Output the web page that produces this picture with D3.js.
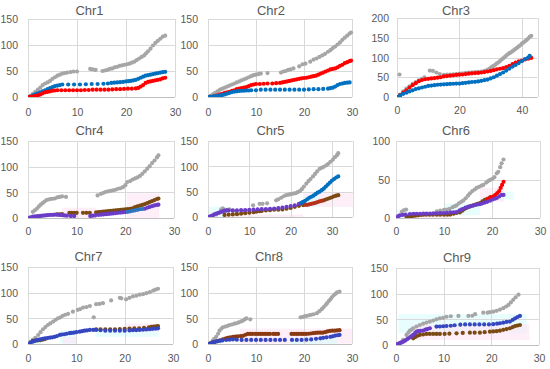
<!DOCTYPE html>
<html><head><meta charset="utf-8">
<script src="https://cdn.jsdelivr.net/npm/d3@7"></script>
<style>html,body{margin:0;padding:0;background:#fff;}svg{display:block;}</style>
</head><body>
<script>
// ---------------- DATA ----------------
const titles = ["Chr1","Chr2","Chr3","Chr4","Chr5","Chr6","Chr7","Chr8","Chr9"];
const xTicks = [[0,10,20,30],[0,10,20,30],[0,20,40],[0,10,20,30],[0,10,20,30],[0,10,20,30],[0,10,20,30],[0,10,20,30],[0,10,20,30]];
const yTicks = [[0,50,100,150],[0,50,100,150],[0,50,100,150,200],[0,50,100,150],[0,50,100,150],[0,50,100],[0,50,100,150],[0,50,100,150],[0,50,100,150]];
const xMax = [30,30,45,30,35,30,30,30,30];
const yMax = [150,150,200,150,150,100,150,150,150];

// Chr1
const chr1Gray = [[0,0],[0.5,2],[1,6],[1.5,10],[2,14],[2.5,18],[3,23],[3.5,26],[4,28],[4.5,31],[5,35],[5.5,38],[6,41],[6.5,43],[7,45],[7.5,46],[8,47],[8.7,48],[9.3,49],[10,49],[12.7,54],[13.2,53],[13.8,52],[15.2,50],[15.7,51],[16.2,52],[16.7,54],[17.2,55],[17.7,57],[18.2,58],[18.7,60],[19.2,61],[19.7,62],[20.2,63],[20.7,64],[21.2,66],[21.7,68],[22.2,71],[22.7,74],[23.2,77],[23.7,80],[24.1,84],[24.5,88],[25,93],[25.5,99],[26,104],[26.5,108],[27,112],[27.5,116],[28,118]];
const chr1Blue = [[0,0],[0.5,1],[1,3],[1.5,5],[2,7],[2.5,9],[3,11],[3.5,13],[4,15],[4.5,17],[5,19],[5.5,21],[6,22],[6.5,23],[7,24],[8.2,24],[9.4,24],[10.6,24],[11.8,24.5],[13,25],[14.2,25],[15.4,25.5],[16.3,26],[17,27],[17.6,27.5],[18.2,28],[18.8,28.5],[19.4,29],[20,30],[20.5,30.5],[21,31],[21.5,32],[22,33],[22.5,35],[23,37],[23.5,39],[24,41],[24.5,42],[25,43],[25.5,44],[26,45],[26.5,46],[27,47],[27.5,48],[28,48.5]];
const chr1Red = [[0,0],[0.5,0.5],[1,1],[1.5,2],[2,3],[2.5,5],[3,7],[3.5,9],[4,10],[4.5,11],[5,12],[5.5,12.5],[6,13],[6.8,13],[7.6,13],[8.4,13],[9.2,13],[10,13],[10.8,13],[11.6,13.5],[12.4,13.5],[13.2,14],[14,14],[14.8,14],[15.6,14],[16.4,14],[17.2,14.5],[18,15],[18.8,15],[19.6,15.5],[20.4,16],[21.2,16],[22,16.5],[22.5,17.5],[23,20],[23.5,23],[24,27],[24.5,29],[25,30],[25.5,31],[26,32],[26.5,33],[27,34],[27.5,36],[28,37]];
// Chr2
const chr2Gray = [[0,0],[0.5,2],[1,5],[1.5,8],[2,11],[2.5,14],[3,16],[3.5,18],[4,20],[4.5,22],[5,24],[5.5,26],[6,28],[6.5,30],[7,32],[7.5,34],[8,36],[8.5,38],[9,40],[9.5,42],[10,43],[10.5,44],[11,45],[12.4,46],[15.2,47],[15.7,49],[16.2,50],[16.7,52],[17.2,53],[17.8,55],[19,59],[19.7,63],[20.3,64],[21.3,68],[22,72],[22.6,74],[23.2,77],[23.8,80],[24.4,83],[25,87],[25.5,90],[26,94],[26.5,97],[27,101],[27.5,105],[28,110],[28.5,114],[29,118],[29.5,122],[29.8,124]];
const chr2Red = [[0,0],[0.5,0.5],[1,1],[1.5,2],[2,3],[2.5,5],[3,6],[3.5,8],[4,9],[4.5,10],[5,12],[5.5,13],[6,15],[6.5,16],[7,17],[7.5,18],[8,19],[8.5,21],[9,23],[9.5,24],[10,25],[10.8,25],[11.6,25.5],[12.4,26],[13.4,26],[14.2,26.5],[15,27],[15.5,28],[16,29],[16.5,30],[17,31],[17.5,32],[18,33],[18.5,34],[19,35],[19.5,36],[20,36.5],[20.5,37],[21,38],[21.5,39],[22,40],[22.5,41],[23,43],[23.5,45],[24,47],[24.5,49],[25,51],[25.5,53],[26,54],[26.5,55],[27,57],[27.5,60],[28,62],[28.5,65],[29,67],[29.5,69],[29.8,70]];
const chr2Blue = [[0,0],[0.5,0.5],[1,1],[1.5,1.5],[2,2],[2.5,3],[3,4],[3.5,5],[4,6.5],[4.5,8],[5,9.5],[5.5,10.5],[6,11],[6.5,11.5],[7,12],[7.5,12],[8,12.5],[8.5,12.5],[9,13],[10,13],[11,14],[12,14],[13,14],[14,14],[15,14],[16,14],[17,14],[18,14],[19,14],[20,14],[21,14.5],[22,15],[23,15],[24,15.5],[25,16],[25.5,17],[26,18],[26.5,20],[27,23],[27.5,25],[28,26],[28.5,27],[29,27.5],[29.5,28]];
// Chr3
const chr3Gray = [[0.8,57],[0,0],[1,6],[2,14],[3,21],[4,27],[5,33],[6,38],[7,42],[8,46],[8.8,50],[10.5,67],[11.5,66],[12.6,62],[13.7,58],[15,56],[16,56.5],[17,57],[18,57.5],[19,58],[20,59],[21,60],[22,61],[23,62],[24,62.5],[25,63],[26,63.5],[27,64],[28,66],[28.8,68],[29.5,71],[30,74],[30.5,77],[31,79],[31.5,82],[32,85],[32.5,88],[33,91],[33.5,95],[34,98],[34.5,101],[35,105],[35.5,108],[36,111],[36.5,113],[37,116],[37.5,119],[38,122],[38.5,125],[39,128],[39.5,131],[40,135],[40.5,138],[41,141],[41.5,144],[42,148],[42.5,152],[43,155]];
const chr3Red = [[0,0],[1,5],[2,11],[3,17],[4,24],[5,30],[6,35],[7,40],[8,43],[9,45],[10,46],[11,47],[12,48],[13,49],[14,50],[15,52],[16,53],[17,54],[18,55],[19,56],[20,56.5],[21,57],[22,58],[23,59],[24,60],[25,60.5],[26,61],[27,62],[28,63],[29,64.5],[30,66],[31,68],[32,70],[33,71.5],[34,73],[35,76],[36,79],[37,83],[38,87],[39,90],[40,92],[41,95],[42,97],[43,99]];
const chr3Blue = [[0,0],[1,4],[2,8],[3,11],[4,14],[5,17],[6,20],[7,22],[8,24],[9,26],[10,28],[11,29],[12,30],[13,31],[14,31.5],[15,32],[16,32.5],[17,33],[18,33.5],[19,34],[20,34],[21,35],[22,36],[23,37],[24,38],[25,38.5],[26,39.5],[27,41],[28,42.5],[29,44],[30,47],[31,50],[32,54],[33,58],[34,62],[35,67],[36,72],[37,77],[38,81],[39,86],[40,91],[41,96],[42,100],[42.5,104]];
// Chr4
const chr4Gray = [[1,12],[1.4,15],[1.8,18],[2.2,22],[2.6,26],[3,29],[3.4,32],[3.8,35],[4.2,36],[4.6,37],[5,37.5],[5.5,38],[6,40],[6.5,41],[7,42],[7.8,41],[14.3,44],[15,47],[15.5,49],[16,51],[16.5,52],[17,53],[17.5,54],[18,55],[18.5,57],[19,58],[19.5,60],[20,64],[20.4,70],[21,72],[21.5,75],[22,77],[22.5,79],[23,82],[23.5,86],[24,91],[24.5,96],[25,101],[25.5,107],[26,112],[26.5,118],[26.8,122]];
const chr4Brown = [[6,7],[6.5,7],[7,7.5],[8.5,10],[9,10],[9.5,10],[10,10],[11.3,10],[12,10],[12.7,10],[14,11],[14.5,11.5],[15,12],[15.5,12.5],[16,13],[16.5,13.5],[17,14],[17.5,14.5],[18,15],[18.5,15.5],[19,16],[19.5,16.5],[20,17],[20.5,17.5],[21,18],[21.5,19],[22,21],[22.5,22.5],[23,24],[23.5,25.5],[24,27],[24.5,29],[25,31],[25.5,33],[26,35],[26.5,37],[26.8,38]];
const chr4Purple = [[0,0],[0.5,1.5],[1,2.5],[1.5,3],[2,3.5],[2.5,4],[3,4.5],[3.5,5],[4,5.5],[4.5,6],[5,6],[5.5,6.5],[6,6.5],[6.5,6],[7,5.5],[7.5,5],[8,4.5],[8.8,4],[9.5,4],[12.8,4],[13.3,4.5],[13.8,5],[14.5,6],[15,6.5],[15.5,7],[16,7.5],[16.5,8],[17,8.5],[17.5,9],[18,9.5],[18.5,10],[19,10.5],[19.5,11],[20,11.5],[24,18],[24.5,20],[25,21.5],[25.5,23],[26,24.5],[26.5,25.5],[26.8,26]];
const chr4Blue = [[20.5,12],[21,13],[21.5,14],[22,15],[22.5,16],[23,17],[23.5,17.5]];
// Chr5
const chr5Gray = [[1.2,2],[2,5],[2.6,8],[3.2,15],[3.6,17],[4,10],[4.6,14],[5.2,15],[6,12],[6.9,10],[8.5,10.5],[10,13],[10.9,23],[12.5,26],[13.2,26],[14.3,27],[16.5,33],[17,35],[17.7,38],[18.3,41],[18.9,43],[19.5,44],[20,45],[20.6,46],[21.2,47],[21.7,49],[22.2,51],[22.7,55],[23.2,60],[23.8,66],[24.3,71],[24.8,75],[25.4,80],[25.9,85],[26.4,90],[27,95],[27.5,97],[28,99],[28.6,102],[29.1,105],[29.6,109],[30.2,113],[30.7,118],[31.2,122],[31.5,126]];
const chr5Brown = [[4,4],[5,4.5],[6,5],[7,5.5],[8,6.5],[9,7.5],[10,8.5],[11,9.5],[11.7,10.4],[12.5,11.5],[13,12],[14,13],[15,13.5],[16,14.4],[17,14.5],[18,15],[19,16.5],[20,18],[21,20],[22,22],[23,23.5],[28,33],[28.5,34.5],[29,36],[29.5,37.5],[30,39],[30.5,41],[31,42],[31.5,43]];
const chr5Red = [[23.5,24],[24,24],[24.5,25],[25,26],[25.5,27],[26,28],[26.5,29.5],[27,31],[27.5,32]];
const chr5Purple = [[0,0],[0.5,1.5],[1,3],[1.5,5],[2,6.5],[2.5,8],[3,9.5],[3.5,11],[4,12.5],[4.5,13],[5,13],[6,13],[7,13],[8,13.5],[9,13.5],[10,14],[11,14.5],[12,15],[13,15.5],[14,15.7],[15,16],[16,16.5],[17,17.5],[18,18.5],[19,20],[20,21.5],[21,23],[22,26],[22.6,28]];
const chr5Blue = [[22.6,28],[23,30],[23.5,32],[24,35],[24.5,38],[25,40],[25.5,42],[26,45],[26.5,48],[27,50],[27.5,53],[28,56],[28.5,60],[29,64],[29.5,68],[30,72],[30.5,75],[31,78],[31.5,80]];
// Chr6
const chr6Gray = [[1.2,8],[1.6,10],[2.1,11],[8.5,8.6],[9.2,9.5],[10,10.5],[10.6,11],[11.2,12],[11.8,14],[12.3,15.5],[12.6,16.5],[13.1,19],[13.6,21],[14,22.5],[14.5,25.5],[15,29],[15.4,32],[15.9,35],[16.4,37],[16.8,39],[17.3,40.5],[17.8,42],[18.2,43],[18.8,46],[19.2,48],[19.6,49.5],[20.1,51],[20.5,53],[21,58],[21.3,60],[21.7,66],[22,71],[22.4,76]];
const chr6Brown = [[2.2,2],[2.8,2],[3.4,2.5],[4,3],[4.6,3.5],[5.2,4],[5.7,4.3],[6.3,4.3],[7,4.3],[7.7,4.3],[8.5,4.3],[9.2,4.3],[10,4.3],[10.7,4.3],[11.3,4.5],[12,5.5],[12.6,6.5],[13.3,7.3],[13.8,9.5],[14.2,11.5],[14.7,13],[15.2,14.5],[15.6,15.5],[16.1,16.4],[16.6,17.5],[17,18.5],[17.5,19.4],[18,21.5],[18.5,23.7],[19,25],[19.6,26.7]];
const chr6Red = [[19,24],[19.4,25.5],[19.8,27],[20.3,28],[20.7,30],[21.1,32.5],[21.5,35],[21.8,39],[22.1,43],[22.4,47]];
const chr6Purple = [[0,0],[0.4,2],[0.8,3.4],[1.4,4],[2,4.5],[2.9,5.2],[3.6,5.4],[4.3,5.5],[5,5.5],[5.7,5.6],[6.4,5.6],[7.1,5.8],[7.8,6],[8.5,6.2],[9.2,6.4],[9.9,6.5],[10.6,6.8],[11.3,7.2],[12,7.5],[12.6,7.8],[13.2,9.5],[13.6,11],[14,12],[14.5,13.5],[15,14.5],[15.4,15],[16,16],[16.5,17],[17,17.5],[17.5,18],[18,19],[18.5,20],[19,21],[19.6,22.4],[20.1,24],[20.6,25],[21,26],[21.5,28],[22,30],[22.4,30]];
// Chr7
const chr7Gray = [[0,0],[0.5,4],[1,8],[1.5,12],[2.1,17.5],[2.6,23],[3.1,28.7],[3.6,33],[4.1,37],[4.6,40],[5.2,43.7],[5.7,47],[6.2,50],[6.7,52],[7.2,55],[7.7,57],[8.3,58.7],[9.3,63],[10.3,66.5],[10.8,68],[11.4,71],[12.1,72],[12.8,74],[13.6,52],[14.1,77.6],[14.8,78],[15.5,79.6],[17.2,84.8],[19,90],[19.3,89],[20.3,87],[21,90],[21.7,92.6],[22.4,94],[23.1,96],[23.8,97],[24.5,99],[25.2,101],[25.9,104],[26.4,106],[26.9,107.6]];
const chr7Brown = [[1,6],[1.5,6.5],[2,7],[2.5,7.5],[3,8.5],[3.5,9.5],[14.1,28.7],[15,28.7],[16,28.7],[17,28.7],[18,28.7],[19,29],[20,29.5],[21,30],[22,30.3],[23,30.6],[24,31.5],[25,32.5],[25.5,33.5],[26,34],[26.5,34.5],[26.9,35]];
const chr7Blue = [[0,0],[0.5,2.5],[1,4.6],[1.5,6.5],[2,8],[2.5,9],[3,10],[3.5,11],[4,11.5],[4.5,12.4],[5,13],[5.5,14],[6,15.5],[6.6,17.6],[7,18.5],[7.5,19],[8,20],[8.6,21],[9,21.5],[9.5,22],[10,23],[10.7,24],[11.2,25],[11.7,26],[12.2,26.5],[12.8,27.4],[13.5,27.5],[14.1,27.4],[15,26.8],[16,26],[17,26],[18,26],[19,26],[20,26],[21,26.5],[21.7,27],[22.4,27],[23.1,27.4],[23.8,28],[24.5,28.3],[25.2,28.7],[25.8,29.5],[26.4,30],[26.9,30.6]];
// Chr8
const chr8Gray = [[1,6.5],[1.3,10],[1.7,14],[2.1,20],[2.4,26],[2.8,30],[3.1,32.6],[3.6,34],[4.1,35.5],[4.5,37],[5,38],[5.5,39.5],[5.9,40.4],[6.4,42],[6.9,44],[7.3,45.7],[7.7,48],[8,50],[8.8,48],[19.3,52],[19.8,53],[20.2,54],[20.6,54.8],[21.1,56],[21.5,57],[22,58],[22.7,60],[23.2,64],[23.7,67.8],[24.1,72],[24.5,76],[24.8,79.6],[25.2,84],[25.5,87],[25.8,91],[26.2,95],[26.6,98],[26.9,100.4],[27.4,102]];
const chr8Brown = [[0,0],[0.5,1.5],[1,3],[1.5,4.3],[2,5.5],[2.5,7],[3.1,9],[3.6,10.5],[4.1,12],[4.6,13],[5.2,14],[5.7,14.5],[6.2,15],[6.8,15.5],[7.3,16],[7.8,18],[8.3,19.6],[8.8,19.6],[9.3,19.6],[9.9,19.6],[10.4,19.6],[10.9,19.6],[11.4,19.6],[11.9,19.6],[12.4,19.6],[12.9,19.6],[13.6,19.6],[14.1,19.6],[14.6,19.6],[17.4,19.6],[17.9,19.6],[18.4,19.6],[18.9,19.6],[19.4,19.6],[19.9,19.6],[20.4,19.6],[20.9,20],[21.4,20.5],[21.9,21],[22.4,21.5],[22.9,22],[23.4,22],[23.9,22],[24.4,23],[24.9,24.5],[25.4,25.5],[25.9,26],[26.4,26],[26.9,26.5],[27.4,27]];
const chr8Blue = [[0,0],[0.5,1.5],[1,3],[1.5,4.6],[2,5.5],[2.5,6.5],[3,7],[3.8,7.8],[4.5,8.5],[5.2,9],[6,8.5],[7,8],[8,8],[9,8],[10,8],[11,8],[12,8],[13,8],[14,8],[15,8],[16,8],[17.5,8],[18.5,8],[19.5,8],[20.5,8.5],[21.5,9],[22.5,10],[23.4,11],[24,12],[24.7,13],[25.5,14],[26,15],[26.5,16.5],[27,17],[27.4,17.6]];
// Chr9
const chr9Gray = [[0,0],[0.5,2],[1,5],[1.5,10],[2.2,19.6],[2.6,24],[2.9,28],[3.3,30],[3.6,32.6],[4.3,36],[5,39],[5.7,41.5],[6.4,43.7],[7.1,45.5],[7.8,47.6],[8.5,50],[9.2,52],[9.9,53],[10.6,55],[11.5,56],[13.1,56.7],[15.2,56.7],[16,57],[16.6,60],[18.3,63],[19.2,63],[19.7,64],[20.4,65],[21.1,66.5],[21.8,69],[22.5,71.8],[23.1,75],[23.6,78],[24.1,83],[24.6,88],[25.1,93],[25.7,98]];
const chr9Brown = [[3.6,13],[4.1,16],[4.5,18],[5,19.6],[5.7,20.5],[6.4,21.5],[7.1,21.5],[7.8,21.5],[8.5,21.5],[9.2,21.5],[10.2,21.5],[11.2,22],[12.7,22.8],[14,23.5],[15.5,24],[16.5,24],[17.6,24],[18.6,25],[19.7,26],[20.4,26.5],[21.1,27],[21.8,28],[22.5,29.5],[23.2,31],[23.9,32.6],[24.5,35],[25,37],[25.5,38],[26,39]];
const chr9Purple = [[0,0],[0.4,2],[0.8,3.5],[1.2,5],[1.5,6.5],[1.9,8.5],[2.3,11],[2.6,13],[3,15.5],[3.3,17.5],[3.6,19.6],[4,23],[4.3,26],[4.7,27],[5.1,27.5],[5.7,28],[6.2,30],[6.6,31],[7.1,32.6]];
const chr9Blue = [[8.5,35.9],[9.2,36],[9.9,36.5],[10.6,37],[11.5,37.5],[12.3,38.5],[13.5,39.5],[14.5,40],[15.5,40],[16.5,40],[17.5,40],[18.5,40],[19.5,40],[20.4,40.5],[21.2,41.5],[21.8,42.4],[22.5,43.5],[23.2,45],[23.9,45.7],[24.5,49],[25,52],[25.5,54.5],[26,56.7]];

// faint shaded bands per panel (data units: kind, x0, x1, y0, y1)
const bands = [
  [],[],[],
  [["c",0,3,0,5],["p",7,14,0,20],["p",20.3,27,0,48]],
  [["c",0,5,0,20],["p",4,23,0,5],["p",23,35,20,47],["c",23,27,20,41]],
  [["c",-1,3,0,11],["p",3,11,0,4],["c",10,17.5,4,19],["p",17.5,22.5,21,39],["c",20.5,24.5,24,34]],
  [["c",0,3,0,14],["c",6.6,10,1,27],["p",7.2,10,1,14],["c",14,27,14,30],["p",20,27,24,40]],
  [["c",0,3,0,8],["p",6.6,30,1,30],["c",17,27,0,11]],
  [["c",0.5,27.4,23,60],["p",3.5,28,10,40]]
];

const panelSeries = [
  [["gray",chr1Gray],["blue",chr1Blue],["red",chr1Red]],
  [["gray",chr2Gray],["red",chr2Red],["blue",chr2Blue]],
  [["gray",chr3Gray],["red",chr3Red],["blue",chr3Blue]],
  [["gray",chr4Gray],["brown",chr4Brown],["purple",chr4Purple],["blue2",chr4Blue]],
  [["gray",chr5Gray],["brown",chr5Brown],["red2",chr5Red],["purple",chr5Purple],["blue",chr5Blue]],
  [["gray",chr6Gray],["brown",chr6Brown],["red",chr6Red],["purple",chr6Purple]],
  [["gray",chr7Gray],["brown",chr7Brown],["indigo",chr7Blue]],
  [["gray",chr8Gray],["brown2",chr8Brown],["indigo",chr8Blue]],
  [["gray",chr9Gray],["brown",chr9Brown],["purple",chr9Purple],["indigo",chr9Blue]]
];

// ---------------- LAYOUT / STYLE ----------------
const colors = {gray:"#a6a6a6", blue:"#0070c0", red:"#ff0000", red2:"#b8321a", brown:"#7a4a12", brown2:"#8a3a12",
  purple:"#6a3cc8", blue2:"#2e75c0", indigo:"#3446c0"};
const bandColors = {c:"#d9fbfb", p:"#fde3f3"};
const boxes = [
  {l:28,r:175,t:19,b:97, tx:89.5, ty:14.5, xl:115.5, gap:10},
  {l:208,r:352,t:19,b:97, tx:271, ty:14.5, xl:115.5, gap:10},
  {l:397,r:537.5,t:18,b:97, tx:456, ty:14.5, xl:114, gap:8},
  {l:28,r:174,t:141,b:218, tx:89.5, ty:135, xl:234.5, gap:10},
  {l:208,r:352.7,t:141,b:217, tx:270.5, ty:135, xl:234.5, gap:10},
  {l:396,r:540,t:141,b:218, tx:456, ty:135, xl:234.5, gap:6},
  {l:28,r:173,t:267,b:344, tx:88.5, ty:261, xl:361.5, gap:10},
  {l:208,r:352,t:267,b:344, tx:269, ty:261, xl:361.5, gap:10},
  {l:396,r:539,t:268,b:345, tx:457, ty:261.5, xl:361.5, gap:8}
];
const FONT = "'Liberation Sans', Arial, sans-serif";
const TXT = "#595959";

const svg = d3.select("body").append("svg").attr("width",550).attr("height",369)
  .style("font-family",FONT);

titles.forEach((title,i)=>{
  const b = boxes[i];
  const x = d3.scaleLinear().domain([0,xMax[i]]).range([b.l,b.r]);
  const y = d3.scaleLinear().domain([0,yMax[i]]).range([b.b,b.t]);
  const g = svg.append("g");

  const clipId = "clip"+i;
  g.append("clipPath").attr("id",clipId).append("rect")
    .attr("x",b.l).attr("y",b.t-3).attr("width",b.r-b.l+3).attr("height",b.b-b.t+3);

  // bands
  g.append("g").attr("clip-path",`url(#${clipId})`).selectAll("rect").data(bands[i]).join("rect")
    .attr("x",d=>x(d[1])).attr("width",d=>x(d[2])-x(d[1]))
    .attr("y",d=>y(d[4])).attr("height",d=>y(d[3])-y(d[4]))
    .attr("fill",d=>bandColors[d[0]]).attr("opacity",0.6);

  // grid
  g.append("g").selectAll("line").data(yTicks[i]).join("line")
    .attr("x1",b.l).attr("x2",b.r).attr("y1",d=>Math.round(y(d))+0.5).attr("y2",d=>Math.round(y(d))+0.5)
    .attr("stroke",d=>d===0?"#bfbfbf":"#d9d9d9").attr("stroke-width",1);
  const xg = xTicks[i].slice();
  if (xg[xg.length-1] !== xMax[i]) xg.push(xMax[i]);
  g.append("g").selectAll("line").data(xg).join("line")
    .attr("y1",b.t).attr("y2",b.b).attr("x1",d=>Math.round(x(d))+0.5).attr("x2",d=>Math.round(x(d))+0.5)
    .attr("stroke","#d9d9d9").attr("stroke-width",1);

  // axes labels via d3 axes
  const xAxis = d3.axisBottom(x).tickValues(xTicks[i]).tickSize(0).tickPadding(0);
  const xa = g.append("g").attr("transform",`translate(0,${b.xl})`).call(xAxis);
  xa.select(".domain").remove();
  xa.selectAll("text").attr("fill",TXT).attr("font-size",10.5).attr("font-family",FONT).attr("dy",0).attr("y",0);

  const yAxis = d3.axisLeft(y).tickValues(yTicks[i]).tickSize(0).tickPadding(b.gap);
  const ya = g.append("g").attr("transform",`translate(${b.l},0)`).call(yAxis);
  ya.select(".domain").remove();
  ya.selectAll("text").attr("fill",TXT).attr("font-size",10.5).attr("font-family",FONT).attr("dy","0.35em");

  // title
  g.append("text").attr("x",b.tx).attr("y",b.ty).attr("text-anchor","middle")
    .attr("fill",TXT).attr("font-size",13).text(title);

  // series
  const sg = g.append("g").attr("clip-path",`url(#${clipId})`);
  panelSeries[i].forEach(([key,pts])=>{
    sg.append("g").selectAll("circle").data(pts).join("circle")
      .attr("cx",d=>x(d[0])).attr("cy",d=>y(d[1])).attr("r",2.1)
      .attr("fill",colors[key]);
  });
});
</script>
</body></html>
